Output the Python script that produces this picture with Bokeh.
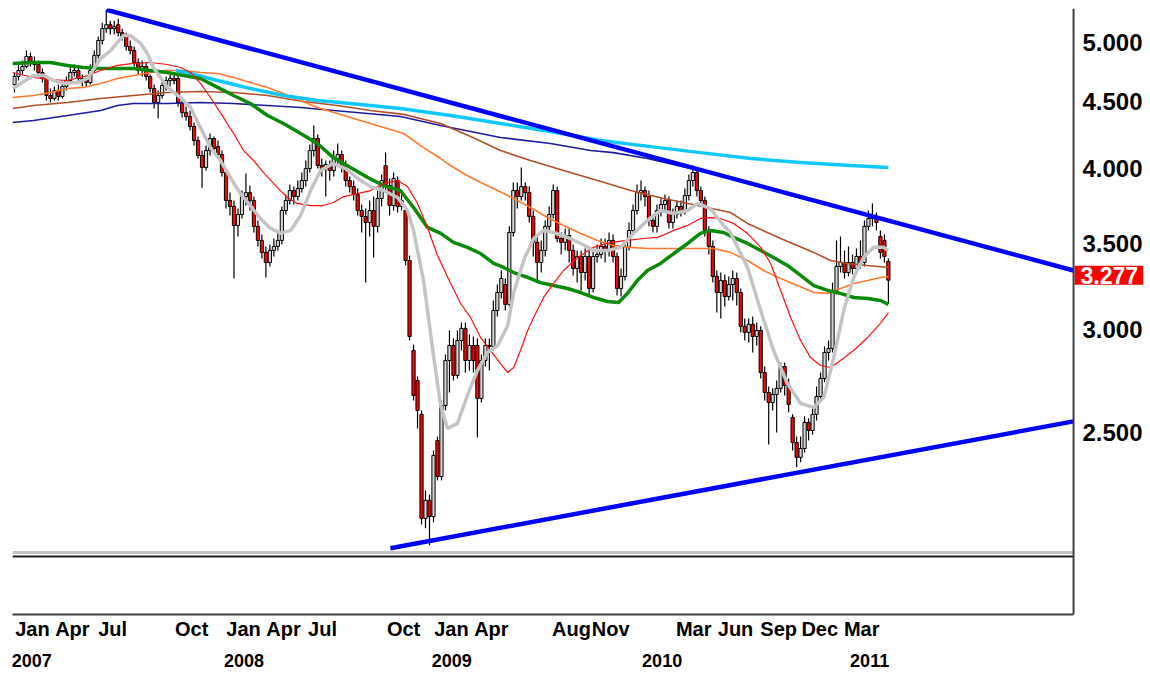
import numpy as np
from bokeh.plotting import figure
from bokeh.core.properties import value
from bokeh.models import (ColumnDataSource, Range1d, FixedTicker, PrintfTickFormatter,
                          LinearAxis, Span, CustomJSTickFormatter)
from bokeh.embed import file_html
from bokeh.resources import INLINE

# ---------------- weekly OHLC (Jan 2007 .. Mar 2011) ----------------
opens = [4.640, 4.707, 4.757, 4.791, 4.877, 4.825, 4.808, 4.740, 4.690, 4.550,
         4.526, 4.591, 4.542, 4.624, 4.673, 4.740, 4.757, 4.690, 4.673, 4.656,
         4.757, 4.886, 5.018, 5.124, 5.160, 5.124, 5.160, 5.088, 5.053, 4.964,
         4.929, 4.825, 4.757, 4.791, 4.707, 4.607, 4.494, 4.550, 4.632, 4.673,
         4.690, 4.690, 4.494, 4.414, 4.383, 4.306, 4.200, 4.090, 4.004, 4.126,
         4.215, 4.156, 4.097, 3.968, 3.776, 3.736, 3.612, 3.683, 3.802, 3.829,
         3.776, 3.606, 3.517, 3.443, 3.382, 3.455, 3.480, 3.517, 3.709, 3.776,
         3.843, 3.802, 3.857, 3.912, 3.996, 4.126, 4.215, 4.018, 3.996, 4.025,
         3.982, 4.068, 4.097, 4.011, 3.912, 3.870, 3.816, 3.709, 3.670, 3.631,
         3.709, 3.606, 3.789, 4.018, 3.877, 3.742, 3.912, 3.736, 3.709, 3.394,
         2.892, 2.742, 2.582, 2.146, 2.216, 2.153, 2.465, 2.312, 2.623, 2.841,
         2.918, 2.767, 2.944, 3.008, 2.841, 2.918, 2.918, 2.656, 2.841, 2.918,
         2.913, 3.105, 3.206, 3.252, 3.139, 3.567, 3.843, 3.802, 3.870, 3.829,
         3.670, 3.505, 3.382, 3.455, 3.606, 3.683, 3.843, 3.529, 3.505, 3.548,
         3.455, 3.346, 3.418, 3.322, 3.418, 3.229, 3.418, 3.430, 3.480, 3.455,
         3.517, 3.418, 3.229, 3.299, 3.480, 3.580, 3.709, 3.829, 3.843, 3.802,
         3.644, 3.606, 3.709, 3.749, 3.776, 3.631, 3.683, 3.736, 3.709, 3.809,
         3.912, 3.968, 3.843, 3.776, 3.580, 3.480, 3.299, 3.206, 3.275, 3.183,
         3.252, 3.287, 3.206, 3.019, 2.987, 3.030, 2.965, 2.997, 2.781, 2.684,
         2.637, 2.675, 2.704, 2.811, 2.718, 2.568, 2.456, 2.392, 2.430, 2.545,
         2.509, 2.582, 2.665, 2.752, 2.882, 2.903, 3.218, 3.358, 3.382, 3.322,
         3.382, 3.346, 3.418, 3.382, 3.606, 3.657, 3.670, 3.542, 3.517, 3.388]

highs = [4.740, 4.808, 4.842, 4.929, 4.911, 4.877, 4.842, 4.774, 4.707, 4.607,
         4.624, 4.640, 4.656, 4.707, 4.791, 4.808, 4.791, 4.723, 4.707, 4.808,
         4.929, 5.053, 5.179, 5.299, 5.197, 5.197, 5.216, 5.124, 5.088, 5.018,
         4.964, 4.859, 4.842, 4.825, 4.723, 4.640, 4.591, 4.673, 4.707, 4.723,
         4.740, 4.723, 4.526, 4.462, 4.430, 4.337, 4.230, 4.126, 4.163, 4.253,
         4.230, 4.200, 4.126, 3.996, 3.829, 3.776, 3.722, 3.843, 3.961, 3.877,
         3.802, 3.644, 3.555, 3.480, 3.492, 3.529, 3.580, 3.736, 3.816, 3.884,
         3.870, 3.912, 3.968, 4.054, 4.170, 4.314, 4.245, 4.068, 4.054, 4.054,
         4.126, 4.178, 4.126, 4.054, 3.940, 3.912, 3.857, 3.749, 3.722, 3.776,
         3.802, 3.843, 3.954, 4.111, 3.926, 3.968, 3.940, 3.816, 3.736, 3.424,
         2.923, 2.762, 2.600, 2.255, 2.239, 2.421, 2.482, 2.646, 2.872, 2.997,
         2.955, 2.997, 3.040, 3.040, 2.976, 2.965, 2.955, 2.872, 2.955, 2.955,
         3.161, 3.252, 3.334, 3.287, 3.606, 3.898, 3.898, 4.004, 3.898, 3.870,
         3.709, 3.542, 3.517, 3.644, 3.736, 3.884, 3.870, 3.567, 3.593, 3.593,
         3.492, 3.455, 3.455, 3.467, 3.455, 3.467, 3.492, 3.529, 3.529, 3.567,
         3.555, 3.443, 3.346, 3.517, 3.631, 3.749, 3.884, 3.912, 3.870, 3.843,
         3.683, 3.749, 3.789, 3.816, 3.802, 3.722, 3.776, 3.776, 3.857, 3.954,
         4.018, 3.996, 3.870, 3.802, 3.606, 3.517, 3.334, 3.322, 3.311, 3.299,
         3.334, 3.322, 3.229, 3.062, 3.062, 3.072, 3.040, 3.019, 2.811, 2.713,
         2.704, 2.742, 2.831, 2.831, 2.752, 2.582, 2.482, 2.482, 2.573, 2.564,
         2.609, 2.713, 2.781, 2.913, 2.944, 3.263, 3.517, 3.542, 3.455, 3.480,
         3.430, 3.467, 3.517, 3.644, 3.709, 3.756, 3.696, 3.580, 3.555, 3.406]

lows = [4.575, 4.673, 4.723, 4.774, 4.791, 4.757, 4.707, 4.656, 4.510, 4.494,
        4.510, 4.510, 4.526, 4.591, 4.656, 4.707, 4.656, 4.624, 4.624, 4.640,
        4.740, 4.859, 4.982, 5.088, 5.071, 5.071, 5.053, 5.018, 4.929, 4.894,
        4.791, 4.723, 4.707, 4.673, 4.575, 4.446, 4.368, 4.526, 4.591, 4.624,
        4.640, 4.462, 4.375, 4.352, 4.276, 4.163, 4.068, 3.863, 3.982, 4.090,
        4.111, 4.068, 3.940, 3.722, 3.676, 3.287, 3.542, 3.657, 3.742, 3.709,
        3.567, 3.480, 3.406, 3.293, 3.358, 3.418, 3.455, 3.492, 3.683, 3.749,
        3.749, 3.776, 3.829, 3.870, 3.968, 4.082, 3.996, 3.940, 3.802, 3.912,
        3.940, 4.011, 3.968, 3.870, 3.829, 3.776, 3.676, 3.567, 3.263, 3.542,
        3.412, 3.567, 3.736, 3.843, 3.676, 3.709, 3.696, 3.709, 3.364, 2.944,
        2.646, 2.518, 2.123, 2.109, 2.046, 2.131, 2.296, 2.296, 2.600, 2.684,
        2.742, 2.752, 2.892, 2.781, 2.791, 2.781, 2.478, 2.637, 2.811, 2.791,
        2.892, 3.072, 3.172, 3.105, 3.127, 3.542, 3.722, 3.776, 3.776, 3.631,
        3.418, 3.275, 3.322, 3.418, 3.567, 3.657, 3.505, 3.430, 3.455, 3.382,
        3.305, 3.263, 3.218, 3.275, 3.195, 3.206, 3.382, 3.406, 3.382, 3.418,
        3.382, 3.189, 3.183, 3.275, 3.455, 3.555, 3.683, 3.776, 3.736, 3.606,
        3.567, 3.567, 3.670, 3.696, 3.593, 3.593, 3.657, 3.670, 3.683, 3.776,
        3.870, 3.802, 3.736, 3.542, 3.430, 3.263, 3.094, 3.062, 3.127, 3.161,
        3.161, 3.133, 2.987, 2.944, 2.934, 2.882, 2.918, 2.752, 2.646, 2.447,
        2.600, 2.500, 2.684, 2.670, 2.591, 2.421, 2.350, 2.371, 2.413, 2.465,
        2.491, 2.554, 2.646, 2.733, 2.841, 2.882, 3.195, 3.322, 3.287, 3.299,
        3.311, 3.322, 3.346, 3.358, 3.580, 3.606, 3.580, 3.406, 3.382, 3.144]

closes = [4.707, 4.757, 4.791, 4.877, 4.825, 4.808, 4.740, 4.690, 4.550, 4.526,
          4.591, 4.542, 4.624, 4.673, 4.740, 4.757, 4.690, 4.673, 4.656, 4.757,
          4.886, 5.018, 5.124, 5.160, 5.124, 5.142, 5.088, 5.053, 4.964, 4.929,
          4.825, 4.757, 4.791, 4.707, 4.607, 4.494, 4.550, 4.632, 4.673, 4.690,
          4.673, 4.494, 4.414, 4.383, 4.306, 4.200, 4.090, 4.004, 4.126, 4.215,
          4.141, 4.097, 3.968, 3.776, 3.736, 3.612, 3.683, 3.802, 3.829, 3.776,
          3.606, 3.517, 3.443, 3.382, 3.455, 3.480, 3.517, 3.709, 3.776, 3.843,
          3.802, 3.857, 3.912, 3.996, 4.126, 4.215, 4.018, 3.996, 4.025, 3.982,
          4.068, 4.097, 4.011, 3.912, 3.870, 3.816, 3.709, 3.670, 3.631, 3.709,
          3.606, 3.789, 3.912, 3.877, 3.742, 3.926, 3.736, 3.776, 3.394, 2.965,
          2.670, 2.600, 2.146, 2.216, 2.153, 2.400, 2.312, 2.623, 2.841, 2.918,
          2.767, 2.944, 3.008, 2.841, 2.918, 2.841, 2.656, 2.841, 2.918, 2.913,
          3.105, 3.206, 3.287, 3.139, 3.567, 3.843, 3.802, 3.870, 3.829, 3.670,
          3.505, 3.382, 3.455, 3.606, 3.683, 3.843, 3.529, 3.505, 3.548, 3.455,
          3.346, 3.418, 3.322, 3.418, 3.229, 3.418, 3.430, 3.480, 3.455, 3.517,
          3.418, 3.229, 3.299, 3.480, 3.580, 3.709, 3.829, 3.843, 3.802, 3.644,
          3.606, 3.709, 3.749, 3.776, 3.631, 3.683, 3.736, 3.709, 3.809, 3.912,
          3.968, 3.843, 3.776, 3.580, 3.480, 3.299, 3.206, 3.275, 3.183, 3.252,
          3.287, 3.206, 3.019, 2.987, 3.030, 2.965, 2.997, 2.781, 2.684, 2.637,
          2.675, 2.704, 2.811, 2.718, 2.628, 2.456, 2.392, 2.430, 2.545, 2.509,
          2.582, 2.665, 2.752, 2.882, 2.903, 3.218, 3.358, 3.382, 3.322, 3.382,
          3.346, 3.418, 3.382, 3.606, 3.657, 3.670, 3.631, 3.443, 3.418, 3.277]

# ---------------- moving-average lines (week index, value) ----------------
grey_w = [-0.5, 1.5, 4.8, 7.3, 9.8, 12.3, 15.8, 18.3, 21.6, 24.1, 25.8, 27.3, 29.1, 31.6, 33.3,
          34.8, 36.6, 38.3, 41.6, 44.1, 46.6, 49.1, 51.6, 54.1, 56.6, 59.1, 61.6, 64.2, 66.7, 69.2,
          71.7, 74.2, 76.7, 79.9, 83.0, 86.0, 89.2, 92.5, 96.0, 98.5, 100.0, 102.5, 105.0, 106.8, 108.5,
          111.0, 113.5, 116.0, 118.5, 121.1, 123.6, 125.1, 127.6, 130.1, 132.6, 135.1, 138.6, 141.9, 145.1, 148.6,
          151.9, 155.1, 158.6, 161.9, 165.2, 168.7, 171.2, 174.4, 177.7, 179.4, 183.7, 187.0, 190.2, 193.7, 197.0,
          200.3, 202.8, 205.3, 207.8, 210.3, 212.8, 215.3, 217.8, 219.0]
grey_v = [4.607, 4.649, 4.715, 4.715, 4.673, 4.649, 4.656, 4.690, 4.859, 4.929, 5.000, 5.062, 5.062, 4.991, 4.903,
          4.782, 4.698, 4.616, 4.534, 4.454, 4.299, 4.148, 4.054, 3.933, 3.822, 3.742, 3.657, 3.593, 3.561, 3.580,
          3.676, 3.843, 3.982, 4.032, 3.996, 3.926, 3.870, 3.843, 3.796, 3.709, 3.580, 3.275, 2.867, 2.623, 2.518,
          2.541, 2.670, 2.791, 2.882, 2.918, 3.024, 3.206, 3.394, 3.529, 3.580, 3.567, 3.536, 3.498, 3.455, 3.455,
          3.474, 3.561, 3.644, 3.709, 3.689, 3.709, 3.756, 3.722, 3.612, 3.567, 3.352, 3.105, 2.892, 2.727, 2.632,
          2.614, 2.660, 2.856, 3.105, 3.293, 3.412, 3.474, 3.474, 3.455]

red_w = [-0.5, 4.8, 9.0, 13.3, 18.3, 21.6, 25.8, 29.8, 34.1, 38.3, 41.6, 44.1, 46.6, 49.1, 51.6,
         54.9, 57.4, 59.9, 62.4, 65.9, 68.4, 70.9, 74.2, 77.4, 79.9, 82.5, 86.0, 89.2, 92.5, 96.0,
         98.5, 101.0, 103.5, 106.0, 109.3, 111.8, 114.3, 116.8, 119.3, 121.8, 123.6, 125.1, 126.8, 128.6, 130.1,
         132.6, 135.1, 137.6, 141.1, 145.1, 149.4, 153.6, 157.7, 161.2, 165.2, 168.7, 171.9, 174.4, 176.9, 180.2,
         183.7, 187.0, 189.5, 192.0, 194.5, 197.0, 199.5, 202.0, 204.5, 207.0, 210.3, 213.8, 217.0, 219.0]
red_v = [4.740, 4.698, 4.681, 4.673, 4.715, 4.757, 4.800, 4.817, 4.825, 4.808, 4.782, 4.740, 4.649, 4.534, 4.414,
         4.253, 4.126, 4.054, 3.968, 3.863, 3.796, 3.756, 3.742, 3.742, 3.762, 3.802, 3.822, 3.843, 3.891, 3.912,
         3.870, 3.756, 3.599, 3.424, 3.258, 3.144, 3.067, 2.960, 2.892, 2.826, 2.781, 2.806, 2.892, 2.997, 3.067,
         3.178, 3.258, 3.334, 3.412, 3.474, 3.505, 3.517, 3.529, 3.536, 3.580, 3.612, 3.657, 3.663, 3.657, 3.625,
         3.561, 3.474, 3.376, 3.218, 3.067, 2.944, 2.856, 2.816, 2.806, 2.841, 2.892, 2.960, 3.035, 3.094]

green_w = [-0.5, 4.8, 9.0, 13.3, 17.3, 21.6, 25.8, 29.8, 34.1, 38.3, 42.4, 46.6, 50.9, 54.9, 59.1,
           63.4, 67.4, 71.7, 75.9, 79.9, 84.2, 88.5, 92.5, 96.7, 100.0, 103.5, 106.8, 110.0, 113.5, 116.8,
           120.1, 122.6, 125.1, 128.6, 131.8, 135.1, 138.6, 141.9, 145.1, 148.6, 151.4, 153.6, 156.1, 158.6, 161.9,
           165.2, 168.7, 171.9, 174.4, 177.7, 180.2, 183.7, 187.0, 190.2, 193.7, 197.0, 200.3, 203.8, 207.0, 210.3,
           213.8, 217.0, 219.0]
green_v = [4.817, 4.825, 4.825, 4.800, 4.782, 4.774, 4.774, 4.774, 4.757, 4.740, 4.715, 4.690, 4.616, 4.550, 4.486,
           4.391, 4.329, 4.253, 4.178, 4.075, 4.004, 3.933, 3.877, 3.843, 3.729, 3.599, 3.561, 3.505, 3.474, 3.436,
           3.376, 3.352, 3.322, 3.293, 3.263, 3.246, 3.229, 3.206, 3.178, 3.155, 3.150, 3.201, 3.275, 3.334, 3.376,
           3.436, 3.498, 3.561, 3.580, 3.567, 3.536, 3.498, 3.455, 3.412, 3.364, 3.305, 3.246, 3.218, 3.201, 3.178,
           3.172, 3.161, 3.139]

orange_w = [-0.5, 4.8, 9.0, 13.3, 17.3, 21.6, 25.8, 29.8, 34.1, 38.3, 42.4, 46.6, 50.9, 54.9, 59.1,
            63.4, 67.4, 71.7, 75.9, 80.9, 89.2, 97.5, 102.5, 106.8, 108.5, 112.5, 116.8, 121.1, 125.1, 129.3,
            133.6, 137.6, 141.9, 146.1, 150.1, 154.4, 158.6, 166.9, 175.2, 179.4, 183.7, 187.7, 192.0, 196.2, 200.3,
            203.8, 207.0, 210.3, 213.8, 217.0, 219.0]
orange_v = [4.534, 4.550, 4.575, 4.607, 4.616, 4.649, 4.690, 4.715, 4.740, 4.757, 4.757, 4.740, 4.732, 4.698, 4.656,
            4.616, 4.567, 4.510, 4.454, 4.407, 4.329, 4.253, 4.148, 4.068, 4.032, 3.961, 3.898, 3.843, 3.789, 3.729,
            3.663, 3.612, 3.561, 3.517, 3.486, 3.474, 3.467, 3.467, 3.467, 3.443, 3.394, 3.334, 3.287, 3.246, 3.206,
            3.201, 3.229, 3.258, 3.275, 3.293, 3.299]

brown_w = [-0.5, 4.8, 13.3, 21.6, 29.8, 38.3, 46.6, 54.9, 63.4, 72.4, 80.9, 89.2, 97.5, 106.8, 114.3,
           121.8, 129.3, 137.6, 146.1, 154.4, 162.7, 171.2, 179.4, 183.7, 192.0, 200.3, 204.5, 208.8, 213.8, 219.0]
brown_v = [4.446, 4.470, 4.494, 4.526, 4.550, 4.575, 4.583, 4.575, 4.550, 4.502, 4.470, 4.430, 4.400, 4.330, 4.230,
           4.126, 4.054, 3.982, 3.912, 3.843, 3.789, 3.742, 3.696, 3.625, 3.529, 3.443, 3.394, 3.376, 3.364, 3.352]

navy_w = [-0.5, 4.8, 13.3, 21.6, 25.8, 29.8, 38.3, 46.6, 54.9, 63.4, 71.7, 80.0, 88.5, 96.7, 106.8,
          121.8, 134.3, 144.4, 150.1, 158.6, 169.4, 182.0, 194.5, 207.0, 216.5]
navy_v = [4.337, 4.352, 4.391, 4.430, 4.470, 4.486, 4.486, 4.494, 4.486, 4.470, 4.454, 4.430, 4.407, 4.383, 4.314,
          4.223, 4.178, 4.126, 4.111, 4.068, 3.996, 3.912, 3.809, 3.722, 3.657]

cyan_w = [40.4, 44.1, 50.9, 59.1, 67.4, 75.9, 84.2, 96.7, 109.3, 121.8, 134.3, 146.9, 159.4, 171.9, 184.5,
          197.0, 209.5, 219.0]
cyan_v = [4.757, 4.732, 4.673, 4.607, 4.550, 4.510, 4.486, 4.446, 4.391, 4.329, 4.268, 4.200, 4.155, 4.111, 4.068,
          4.039, 4.018, 4.004]

# trend lines (week index, value)
upper_w = [23.06, 265.4]
upper_v = [5.299, 3.334]
lower_w = [94.2, 265.4]
lower_v = [2.035, 2.550]

# axes / chart furniture
x_start, x_axis_end, x_frame_end = -0.5, 265.4, 283.68
y_lo, y_hi = 1.8091, 5.311
y_ticks = [2.5, 3.0, 3.5, 4.0, 4.5, 5.0]
month_labels = ["Jan", "Apr", "Jul", "Oct", "Jan", "Apr", "Jul", "Oct", "Jan", "Apr",
                "Aug", "Nov", "Mar", "Jun", "Sep", "Dec", "Mar"]
month_pos = [4.5, 14.5, 24.6, 44.4, 57.4, 67.4, 77.2, 97.5, 109.5, 119.5,
             139.6, 149.4, 170.2, 180.7, 191.5, 201.8, 212.3]
year_labels = ["2007", "2008", "2009", "2010", "2011"]
year_pos = [4.3, 57.5, 109.6, 162.3, 214.3]
last_close = 3.277
separator_levels = [2.0199, 2.0056]

# ---------------- figure ----------------
n = len(closes)
weeks = np.arange(n)
o = np.array(opens)
c = np.array(closes)
src = ColumnDataSource(dict(
    x=weeks, top=np.maximum(o, c), bottom=np.minimum(o, c),
    high=np.array(highs), low=np.array(lows),
    fill=["#d4d4d4" if cc >= oo else "#ff0000" for oo, cc in zip(opens, closes)]))

W, H = 1148, 676
p = figure(width=W, height=H, x_range=Range1d(x_start, x_frame_end), y_range=Range1d(y_lo, y_hi),
           y_axis_type="log", y_axis_location="right", x_axis_location=None,
           output_backend="svg", toolbar_location=None,
           min_border_left=12, min_border_right=2, min_border_top=8, min_border_bottom=H - 614)
p.grid.visible = False
p.outline_line_color = None
p.background_fill_color = "white"
p.border_fill_color = "white"

# price scale: labels pulled back to sit just right of the price-panel edge
ya = p.yaxis[0]
ya.ticker = FixedTicker(ticks=y_ticks, minor_ticks=[])
ya.formatter = PrintfTickFormatter(format="%.3f")
ya.major_tick_out = 0
ya.major_tick_in = 0
ya.minor_tick_out = 0
ya.minor_tick_in = 0
ya.axis_line_color = None
ya.major_label_text_font = "Liberation Sans"
ya.major_label_text_font_size = "24px"
ya.major_label_text_font_style = "bold"
ya.major_label_text_color = "black"
ya.major_label_standoff = -64

fmt_code = """
let best = 0, bd = 1e9;
for (let i = 0; i < pos.length; i++) { const d = Math.abs(pos[i] - tick); if (d < bd) { bd = d; best = i; } }
return labs[best];
"""
xa = LinearAxis(ticker=FixedTicker(ticks=month_pos, minor_ticks=[]), bounds=(x_start, x_axis_end),
                formatter=CustomJSTickFormatter(args=dict(pos=month_pos, labs=month_labels), code=fmt_code))
xa.major_tick_out = 0
xa.major_tick_in = 0
xa.minor_tick_out = 0
xa.minor_tick_in = 0
xa.axis_line_color = "#404040"
xa.axis_line_width = 2
xa.major_label_text_font = "Liberation Sans"
xa.major_label_text_font_size = "20px"
xa.major_label_text_font_style = "bold"
xa.major_label_text_color = "black"
xa.major_label_standoff = 3
p.add_layout(xa, "below")

xy = LinearAxis(ticker=FixedTicker(ticks=year_pos, minor_ticks=[]), bounds=(x_start, x_axis_end),
                formatter=CustomJSTickFormatter(args=dict(pos=year_pos, labs=year_labels), code=fmt_code))
xy.major_tick_out = 0
xy.major_tick_in = 0
xy.minor_tick_out = 0
xy.minor_tick_in = 0
xy.axis_line_color = None
xy.major_label_text_font = "Liberation Sans"
xy.major_label_text_font_size = "18px"
xy.major_label_text_font_style = "bold"
xy.major_label_text_color = "black"
xy.major_label_standoff = 11
p.add_layout(xy, "below")

# price-panel right edge
p.add_layout(Span(location=x_axis_end, dimension="height", line_color="#404040", line_width=2))

# panel separator
p.line([x_start, x_axis_end], [separator_levels[0]] * 2, line_color="#c4c4c4", line_width=3)
p.line([x_start, x_axis_end], [separator_levels[1]] * 2, line_color="#202020", line_width=2)

# candles
p.segment(x0="x", y0="low", x1="x", y1="high", source=src, line_color="black", line_width=1.2)
p.vbar(x="x", width=0.8, top="top", bottom="bottom", source=src,
       fill_color="fill", line_color="black", line_width=1)

# moving averages
p.line(navy_w, navy_v, line_color="#1c1c9c", line_width=1.6)
p.line(brown_w, brown_v, line_color="#b0502a", line_width=1.6)
p.line(orange_w, orange_v, line_color="#ff7a30", line_width=1.6)
p.line(cyan_w, cyan_v, line_color="#10c8ff", line_width=3.5)
p.line(green_w, green_v, line_color="#0a8a0a", line_width=3.5)
p.line(red_w, red_v, line_color="#ff1010", line_width=1.2)
p.line(grey_w, grey_v, line_color="#c4c4c4", line_width=3.5)

# trend lines
p.line(upper_w, upper_v, line_color="#0000ff", line_width=4.5)
p.line(lower_w, lower_v, line_color="#0000ff", line_width=4.5)

# last price tag
tag = ColumnDataSource(dict(x=[x_axis_end], y=[last_close], t=[f"{last_close:.3f}"]))
tag_style = dict(x="x", y="y", text="t", source=tag, text_color="white",
                 text_font=value("Liberation Sans"), text_font_size="23px", text_font_style="bold",
                 text_align="left", text_baseline="middle", x_offset=1, y_offset=-5,
                 background_fill_color="#ff0000")
drawn = False
for pad in (dict(top=1, bottom=1, left=6, right=5), (1, 5, 1, 6), 2):
    try:
        p.text(padding=pad, **tag_style)
        drawn = True
        break
    except Exception:
        continue
if not drawn:
    p.text(**tag_style)

open("out.html", "w").write(file_html(p, INLINE))
